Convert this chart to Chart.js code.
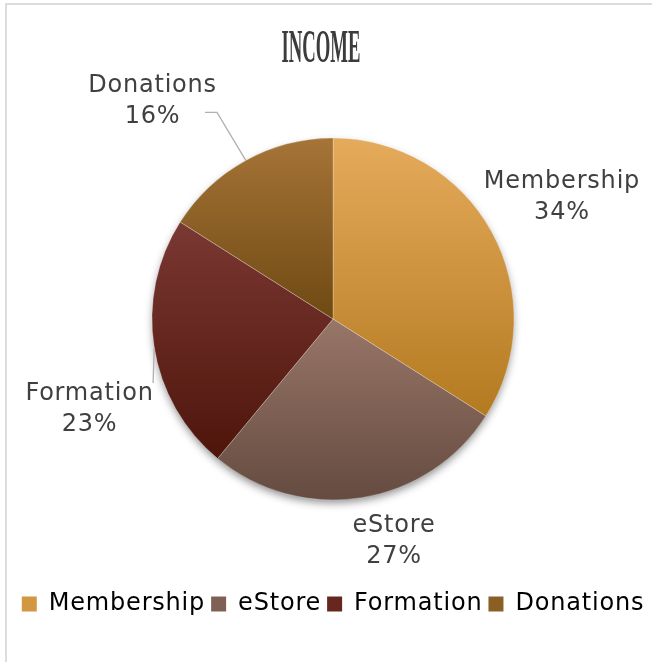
<!DOCTYPE html>
<html>
<head>
<meta charset="utf-8">
<script src="https://cdn.jsdelivr.net/npm/chart.js@4/dist/chart.umd.min.js"></script>
<style>
  html, body { margin: 0; padding: 0; background: #fff; }
  canvas { display: block; }
</style>
</head>
<body>
<canvas id="chart" width="652" height="662"></canvas>
<script>
const categories = ["Membership", "eStore", "Formation", "Donations"];
const shares = [34, 27, 23, 16];
const percentLabels = ["34%", "27%", "23%", "16%"];

const topColors = ["#E5AB5C", "#987668", "#7A3832", "#A67437"];
const bottomColors = ["#B47A20", "#654B40", "#4E150B", "#6E4913"];
const legendColors = ["#D39742", "#806055", "#65271E", "#8B5E25"];

// label anchors and leader lines, in pie radii from the centre
const labelSpots = [[1.265, -0.639], [0.337, 1.265], [-1.345, 0.532], [-0.997, -1.17]];
const leaders = { 2: [[-0.994, 0.354]], 3: [[-0.641, -1.142], [-0.707, -1.142]] };

const PIE_R = 181;
const textColor = "#404040";
const labelFont = '24px "DejaVu Sans"';
const spacing = "0.8px";

function sliceGradient(c) {
  const chart = c.chart, i = c.dataIndex;
  const area = chart.chartArea;
  if (!area) return topColors[i];
  const cy = (area.top + area.bottom) / 2;
  const total = shares.reduce((a, b) => a + b, 0);
  let before = 0;
  for (let k = 0; k < i; k++) before += shares[k];
  const a0 = -Math.PI / 2 + before / total * 2 * Math.PI;
  const a1 = a0 + shares[i] / total * 2 * Math.PI;
  const ys = [cy, cy + PIE_R * Math.sin(a0), cy + PIE_R * Math.sin(a1)];
  if (a0 < Math.PI / 2 && a1 > Math.PI / 2) ys.push(cy + PIE_R);
  const g = chart.ctx.createLinearGradient(0, Math.min(...ys), 0, Math.max(...ys));
  g.addColorStop(0, topColors[i]);
  g.addColorStop(1, bottomColors[i]);
  return g;
}

const piePlugin = {
  id: "piePlugin",
  beforeLayout(chart) {
    chart.ctx.letterSpacing = spacing;
  },
  beforeDraw(chart) {
    const ctx = chart.ctx;
    ctx.save();
    ctx.strokeStyle = "#dcdcdc";
    ctx.lineWidth = 2;
    ctx.beginPath();
    ctx.moveTo(6, chart.height);
    ctx.lineTo(6, 4);
    ctx.lineTo(chart.width, 4);
    ctx.stroke();
    ctx.restore();
    ctx.letterSpacing = spacing;
  },
  beforeDatasetsDraw(chart) {
    const arc = chart.getDatasetMeta(0).data[0];
    const ctx = chart.ctx;
    ctx.save();
    ctx.shadowColor = "rgba(0,0,0,0.45)";
    ctx.shadowBlur = 9;
    ctx.shadowOffsetY = 4;
    ctx.fillStyle = "#fff";
    ctx.beginPath();
    ctx.arc(arc.x, arc.y, arc.outerRadius - 1, 0, Math.PI * 2);
    ctx.fill();
    ctx.restore();
  },
  afterDatasetsDraw(chart) {
    const ctx = chart.ctx;
    const arcs = chart.getDatasetMeta(0).data;
    ctx.save();
    arcs.forEach((arc, i) => {
      const r = arc.outerRadius;
      if (leaders[i]) {
        const mid = (arc.startAngle + arc.endAngle) / 2;
        ctx.strokeStyle = "#b0b0b0";
        ctx.lineWidth = 1.3;
        ctx.beginPath();
        ctx.moveTo(arc.x + Math.cos(mid) * r, arc.y + Math.sin(mid) * r);
        leaders[i].forEach(p => ctx.lineTo(arc.x + p[0] * r, arc.y + p[1] * r));
        ctx.stroke();
      }
      const ax = arc.x + labelSpots[i][0] * r;
      const ay = arc.y + labelSpots[i][1] * r;
      ctx.font = labelFont;
      ctx.fillStyle = textColor;
      ctx.textAlign = "center";
      ctx.textBaseline = "alphabetic";
      ctx.fillText(categories[i], ax, ay - 15.5);
      ctx.fillText(percentLabels[i], ax, ay + 15.5);
    });
    ctx.restore();
  },
  afterDraw(chart) {
    const ctx = chart.ctx;
    ctx.save();
    ctx.letterSpacing = "0px";
    ctx.font = 'bold 47px "Liberation Serif"';
    ctx.fillStyle = "#3c3c3c";
    ctx.textAlign = "center";
    ctx.textBaseline = "alphabetic";
    const w = ctx.measureText("INCOME").width;
    const sx = 79 / w;
    ctx.translate(321, 62);
    ctx.scale(sx, 1);
    ctx.fillText("INCOME", 0, 0);
    ctx.restore();
  }
};

new Chart(document.getElementById("chart"), {
  type: "pie",
  data: {
    labels: categories,
    datasets: [{
      data: shares,
      backgroundColor: sliceGradient,
      borderColor: "rgba(255,255,255,0.25)",
      borderWidth: 1,
      radius: PIE_R
    }]
  },
  options: {
    responsive: false,
    animation: false,
    events: [],
    layout: { padding: { left: 14, right: 0, top: 52, bottom: 36 } },
    plugins: {
      title: { display: false },
      tooltip: { enabled: false },
      legend: {
        position: "bottom",
        labels: {
          font: { family: "DejaVu Sans", size: 24 },
          color: textColor,
          boxWidth: 15,
          boxHeight: 15,
          padding: 6,
          generateLabels: chart => categories.map((name, i) => ({
            text: name,
            fillStyle: legendColors[i],
            strokeStyle: legendColors[i],
            lineWidth: 0,
            hidden: false,
            index: i
          }))
        }
      }
    }
  },
  plugins: [piePlugin]
});
</script>
</body>
</html>
